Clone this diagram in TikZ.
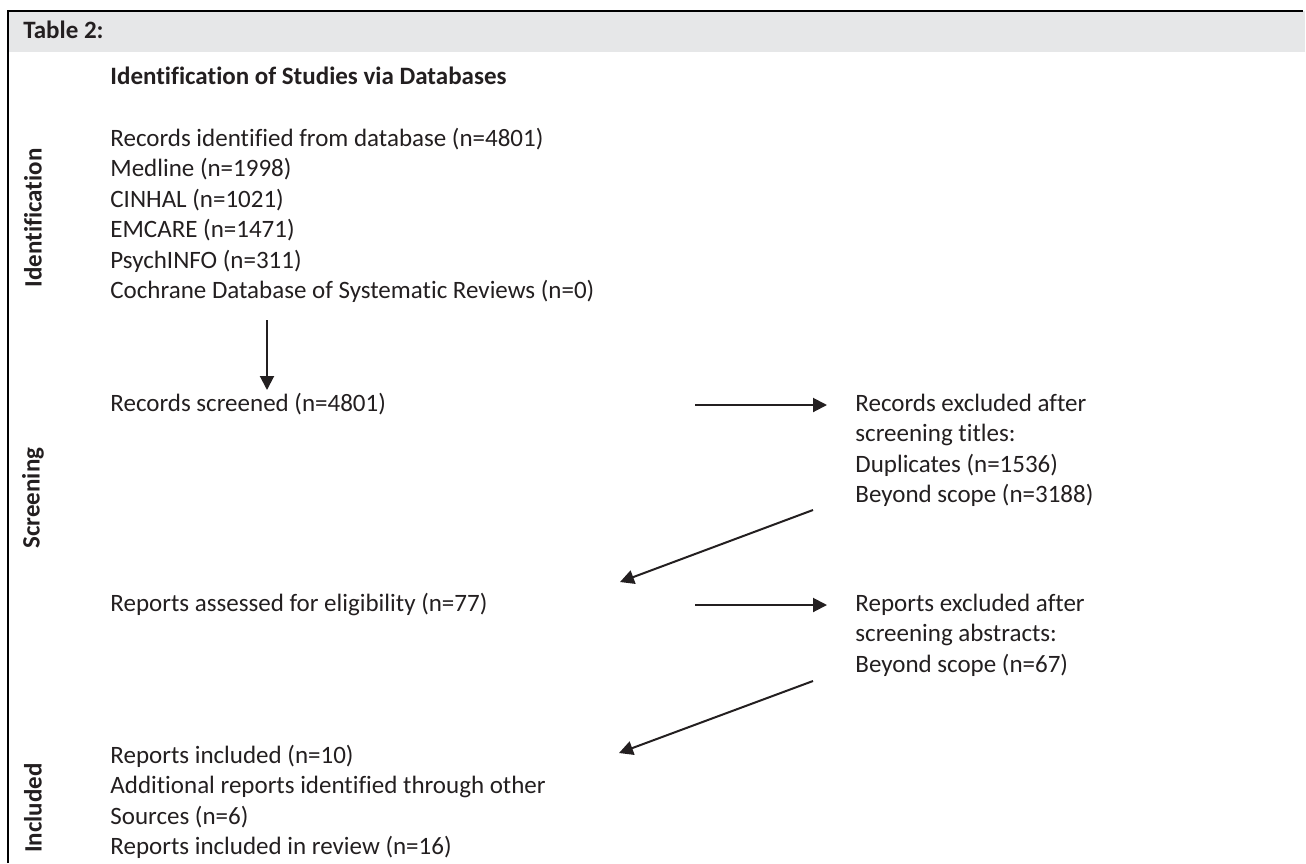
\documentclass[tikz,border=0pt]{standalone}
\usepackage{fontspec}
\setmainfont{Carlito}[Ligatures={NoCommon,NoRequired,NoContextual}, Contextuals=NoAlternate]
\usetikzlibrary{arrows.meta, positioning}
\definecolor{headgray}{HTML}{E6E7E8}
\definecolor{inkgray}{HTML}{231F20}

\begin{document}
\begin{tikzpicture}[
    x=0.5pt, y=-0.5pt, >={Triangle[length=7pt,width=7pt]},
    font=\fontsize{12.5}{15.2}\selectfont, color=inkgray,
    entry/.style={anchor=west, inner sep=0pt, text height=0.64em, text depth=0pt},
    head/.style={entry, font=\fontsize{12.5}{15.2}\selectfont\bfseries},
    phase/.style={rotate=90, inner sep=0pt, font=\fontsize{12.5}{15.2}\selectfont\bfseries},
    flow/.style={->, line width=1pt},
    ]
    \useasboundingbox (0,0) rectangle (1306,863);
    % frame and title bar
    \fill[headgray] (8,11) rectangle (1305,52);
    \draw[line width=1pt, black] (8,863) -- (8,10.5) -- (1303,10.5);
    \node[head] (title) at (23,32) {Table 2:};
    \node[head] (dbhead) at (110,78) {Identification of Studies via Databases};

    % phase labels
    \node[phase] (ph-id)  at (33,218) {Identification};
    \node[phase] (ph-scr) at (33,498) {Screening};
    \node[phase] (ph-inc) at (33,808) {Included};

    % identification
    \foreach \txt [count=\i] in {Records identified from database (n=4801), Medline (n=1998),
        CINHAL (n=1021), EMCARE (n=1471), PsychINFO (n=311),
        Cochrane Database of Systematic Reviews (n=0)}
      \node[entry] (id-\i) at (110,{140+30.4*(\i-1)}) {\txt};

    % screening
    \node[entry] (scr) at (110,405) {Records screened (n=4801)};
    \foreach \txt [count=\i] in {Records excluded after, screening titles:,
        Duplicates (n=1536), Beyond scope (n=3188)}
      \node[entry] (exc1-\i) at (855,{405+30.4*(\i-1)}) {\txt};

    \node[entry] (elig) at (110,605) {Reports assessed for eligibility (n=77)};
    \foreach \txt [count=\i] in {Reports excluded after, screening abstracts:,
        Beyond scope (n=67)}
      \node[entry] (exc2-\i) at (855,{605+30.4*(\i-1)}) {\txt};

    % included
    \foreach \txt [count=\i] in {Reports included (n=10),
        Additional reports identified through other, Sources (n=6),
        Reports included in review (n=16)}
      \node[entry] (inc-\i) at (110,{757+30.4*(\i-1)}) {\txt};

    % arrow ends
    \coordinate (down-s) at (267,320);
    \coordinate (down-e) at (267,390);
    \coordinate (r1-s) at (695,405);
    \coordinate (r2-s) at (695,605);
    \coordinate (d1-s) at (813,510);
    \coordinate (d1-e) at (620,582);
    \coordinate (d2-s) at (813,681);
    \coordinate (d2-e) at (619,753);

    \draw[flow] (down-s) -- (down-e);
    \draw[flow, shorten >=14pt] (r1-s) -- (exc1-1.west);
    \draw[flow] (d1-s) -- (d1-e);
    \draw[flow, shorten >=14pt] (r2-s) -- (exc2-1.west);
    \draw[flow] (d2-s) -- (d2-e);
\end{tikzpicture}
\end{document}
